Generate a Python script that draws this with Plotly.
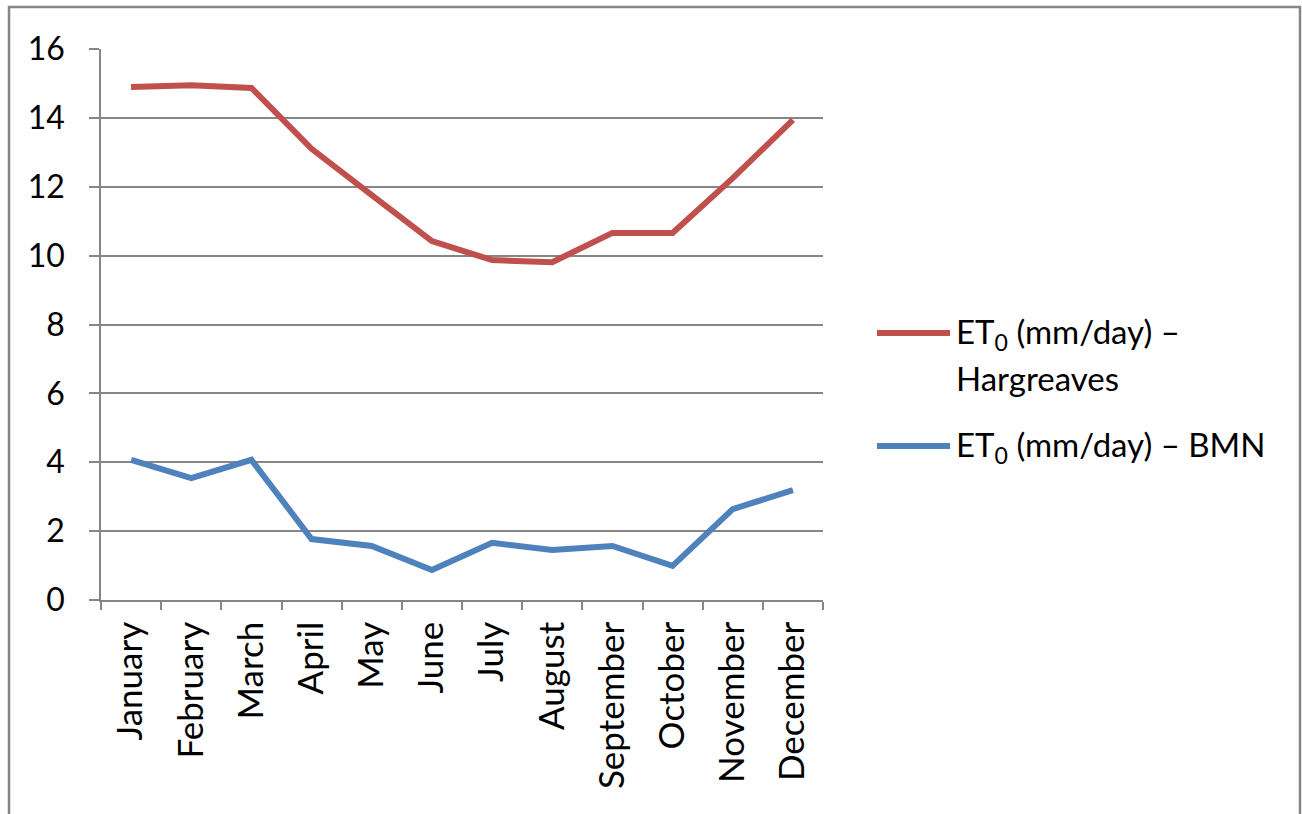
import plotly.graph_objects as go

months = ["January", "February", "March", "April", "May", "June", "July",
          "August", "September", "October", "November", "December"]
hargreaves = [14.90, 14.95, 14.87, 13.10, 11.76, 10.42, 9.87, 9.81, 10.66, 10.66, 12.25, 13.94]
bmn = [4.07, 3.54, 4.07, 1.77, 1.57, 0.87, 1.66, 1.45, 1.57, 0.99, 2.64, 3.19]
y_ticks = [0, 2, 4, 6, 8, 10, 12, 14, 16]

RED = "#C0504D"
BLUE = "#4F81BD"
GRID = "#868686"
FONT = "Lato, Carlito, Calibri, sans-serif"

series = [
    ("ET<sub>0</sub> (mm/day) –", "Hargreaves", hargreaves, RED),
    ("ET<sub>0</sub> (mm/day) – BMN", None, bmn, BLUE),
]

fig = go.Figure()
for label, label2, values, color in series:
    fig.add_trace(go.Scatter(
        x=months, y=values, mode="lines",
        line=dict(color=color, width=6),
        name=label if label2 is None else label + " " + label2,
        showlegend=False,
    ))

# Plot area geometry (pixels) used to place the legend and outer frame
W, H = 1302, 814
L, R, T, B = 101, 479, 49, 214
pw, ph = W - L - R, H - T - B


def px(x):
    return (x - L) / pw


def py(y):
    return (H - B - y) / ph


shapes = [
    # outer chart frame
    dict(type="rect", xref="paper", yref="paper",
         x0=px(9), x1=px(1300), y0=py(830), y1=py(7),
         line=dict(color=GRID, width=2.5), fillcolor="rgba(0,0,0,0)", layer="below"),
]
annotations = []
legend_rows = [(333, 378), (446, None)]
for (label, label2, values, color), (ly, ly2) in zip(series, legend_rows):
    shapes.append(dict(type="line", xref="paper", yref="paper",
                       x0=px(877), x1=px(950), y0=py(ly), y1=py(ly),
                       line=dict(color=color, width=6)))
    annotations.append(dict(xref="paper", yref="paper", x=px(954), y=py(ly),
                            xanchor="left", yanchor="middle", showarrow=False,
                            text=label, font=dict(size=33, color="#000000", family=FONT)))
    if label2:
        annotations.append(dict(xref="paper", yref="paper", x=px(954), y=py(ly2),
                                xanchor="left", yanchor="middle", showarrow=False,
                                text=label2, font=dict(size=33, color="#000000", family=FONT)))

fig.update_layout(
    width=W, height=H,
    margin=dict(l=L, r=R, t=T, b=B, pad=0),
    paper_bgcolor="white", plot_bgcolor="white",
    font=dict(family=FONT, size=32, color="#000000"),
    shapes=shapes, annotations=annotations,
    showlegend=False,
)
fig.update_xaxes(
    type="category", categoryorder="array", categoryarray=months,
    range=[-0.5, 11.5], tickson="boundaries",
    ticks="outside", ticklen=8, tickcolor=GRID, tickwidth=1.5,
    tickangle=-90, showgrid=False, ticklabelstandoff=6,
    showline=True, linecolor=GRID, linewidth=1.5,
    tickfont=dict(size=35, family=FONT), fixedrange=True,
)
fig.update_yaxes(
    range=[0, 16], tickvals=y_ticks, ticktext=[str(v) for v in y_ticks],
    ticks="outside", ticklen=10, tickcolor=GRID, tickwidth=1.5,
    showgrid=True, gridcolor=GRID, gridwidth=1.5,
    showline=True, linecolor=GRID, linewidth=1.5,
    zeroline=False, ticklabelstandoff=18,
    tickfont=dict(size=32, family=FONT), fixedrange=True,
)

fig.write_html("out.html", config={"displayModeBar": False})
